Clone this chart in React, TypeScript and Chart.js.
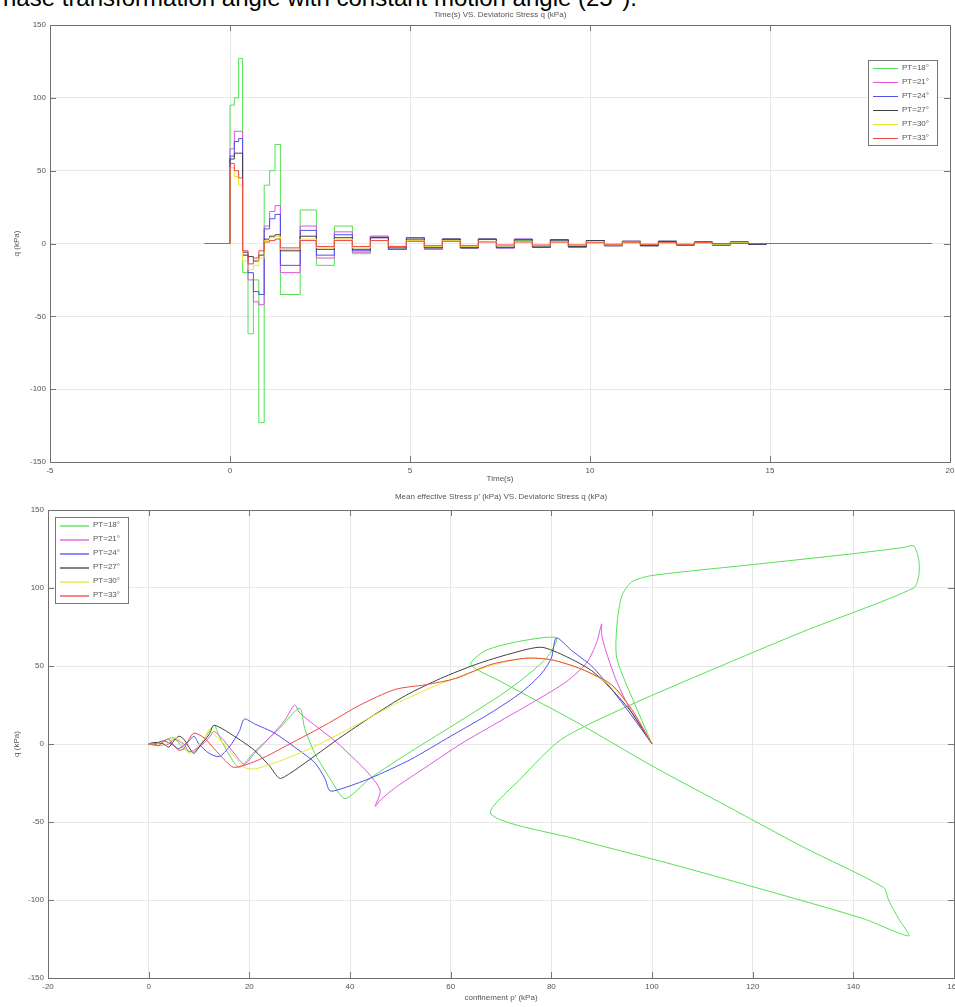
import React, { useEffect, useRef } from "react";
import { Chart, registerables } from "chart.js";
Chart.register(...registerables);

const seriesNames = ["PT=18°", "PT=21°", "PT=24°", "PT=27°", "PT=30°", "PT=33°"];
const seriesColors = ["#55e055", "#e055e0", "#5050ee", "#404040", "#e8e830", "#f04545"];

const xTicksTime = [-5, 0, 5, 10, 15, 20];
const yTicksQ = [-150, -100, -50, 0, 50, 100, 150];
const xTicksP = [-20, 0, 20, 40, 60, 80, 100, 120, 140, 160];

// switching times of the stepped time histories (s)
const timeBreaks = [-0.7, 0, 0.12, 0.24, 0.35, 0.5, 0.65, 0.8, 0.95, 1.1, 1.25, 1.4, 1.95, 2.4, 2.9, 3.4, 3.9, 4.4, 4.9, 5.4, 5.9, 6.4, 6.9, 7.4, 7.9, 8.4, 8.9, 9.4, 9.9, 10.4, 10.9, 11.4, 11.9, 12.4, 12.9, 13.4, 13.9, 14.4, 14.9, 19.5];
const qTime18 = [0, 95, 100, 127, -20, -62, -25, -123, 40, 50, 68, -35, 23, -15, 12, -7, 5, -4, 4, -4, 3, -3, 3, -3, 2, -2, 2, -2, 2, -1.5, 1.5, -1.5, 1.5, -1, 1, -1, 1, -0.5, 0, 0];
const qTime21 = [0, 65, 77, 77, -8, -25, -40, -42, 12, 22, 26, -20, 12, -10, 8, -6, 5, -4, 4, -4, 3, -3, 3, -3, 3, -2.5, 2.5, -2.5, 2, -1.5, 1.5, -1.5, 1.5, -1, 1, -1, 1, -0.5, 0, 0];
const qTime24 = [0, 60, 70, 72, -8, -20, -33, -35, 10, 17, 20, -15, 9, -8, 6, -5, 4, -4, 4, -3, 3, -3, 3, -3, 3, -2.5, 2.5, -2.5, 2, -1.5, 1.5, -1.5, 1.5, -1, 1, -1, 1, -0.5, 0, 0];
const qTime27 = [0, 58, 62, 62, -6, -9, -12, -8, 3, 5, 6, -5, 5, -4, 4, -4, 4, -3, 3, -3, 3, -3, 3, -2.5, 2.5, -2.5, 2.5, -2, 2, -1.5, 1.5, -1.5, 1.5, -1, 1, -1, 1, -0.5, 0, 0];
const qTime30 = [0, 52, 46, 40, -12, -18, -15, -10, 2, 4, 5, -4, 3, -3, 3, -3, 2, -2, 2, -2, 2, -2, 1.5, -1.5, 1.5, -1.5, 1, -1, 1, -1, 1, -0.5, 0.5, -0.5, 0.5, -0.5, 0.5, 0, 0, 0];
const qTime33 = [0, 55, 50, 45, -5, -14, -10, -5, 1, 2, 3, -3, 2, -2, 2, -2, 2, -2, 1.5, -1.5, 1.5, -1.5, 1, -1, 1, -1, 1, -1, 0.5, -0.5, 0.5, -0.5, 0.5, -0.5, 0.5, 0, 0, 0, 0, 0];
const qTimeSeries = [qTime18, qTime21, qTime24, qTime27, qTime30, qTime33];

// stress paths [p', q] (kPa)
const path18 = [[100, 0], [96, 30], [93, 55], [93, 75], [94, 95], [96, 104], [100, 108], [120, 115], [140, 122], [150, 126], [152, 127], [153, 118], [153, 108], [152, 100], [130, 72], [110, 45], [95, 24], [82, 3], [74, -22], [68, -45], [85, -61], [105, -78], [125, -96], [142, -112], [151, -123], [149, -112], [147, -100], [146, -92], [130, -66], [115, -40], [100, -14], [85, 14], [70, 40], [64, 51], [67, 60], [74, 66], [81, 68], [79, 55], [72, 36], [62, 15], [52, -5], [44, -22], [39, -35], [36, -22], [33, -6], [31, 10], [30, 23], [26, 10], [21, -5], [18, -15], [16, -7], [14, 5], [13, 12], [11, 3], [9, -5], [7, -3], [5, 4], [3, 2], [2, -1], [0, 0]];
const path21 = [[100, 0], [96, 20], [93, 40], [91, 58], [90, 70], [90, 77], [89, 65], [87, 52], [83, 40], [77, 28], [70, 15], [62, 0], [55, -15], [49, -28], [46, -36], [45, -40], [46, -30], [44, -20], [41, -10], [37, 2], [33, 12], [30, 20], [29, 25], [27, 15], [24, 4], [21, -6], [19, -13], [17, -6], [15, 2], [13, 8], [12, 4], [10, -2], [8, -5], [7, 0], [5, 3], [4, 0], [2, -1], [0, 0]];
const path24 = [[100, 0], [96, 18], [92, 35], [88, 50], [84, 60], [81, 68], [80, 55], [78, 45], [74, 33], [68, 20], [60, 5], [52, -10], [44, -22], [38, -29], [36, -30], [35, -22], [33, -12], [29, -2], [25, 7], [21, 13], [19, 16], [18, 8], [16, -2], [14, -8], [12, -6], [10, 0], [9, 5], [8, 2], [6, -3], [5, -1], [3, 2], [1, 0], [0, 0]];
const path27 = [[100, 0], [96, 20], [92, 35], [88, 47], [83, 56], [78, 62], [72, 58], [65, 51], [58, 42], [51, 31], [44, 17], [38, 4], [32, -10], [28, -19], [26, -22], [24, -14], [21, -4], [17, 5], [13, 12], [12, 6], [10, -2], [9, -6], [8, -2], [7, 3], [6, 5], [5, 2], [4, -2], [3, 0], [1, 1], [0, 0]];
const path30 = [[100, 0], [96, 22], [92, 37], [86, 48], [80, 54], [75, 55], [70, 52], [64, 46], [56, 36], [48, 24], [40, 10], [32, -3], [26, -11], [21, -16], [19, -15], [17, -8], [15, 0], [13, 6], [12, 9], [11, 3], [9, -4], [8, -6], [7, -2], [6, 3], [5, 4], [4, 1], [3, -1], [1, 0], [0, 0]];
const path33 = [[100, 0], [96, 22], [92, 38], [86, 48], [80, 54], [75, 55], [68, 51], [61, 42], [55, 38], [49, 35], [42, 25], [35, 12], [28, 0], [22, -10], [17, -15], [15, -10], [13, -3], [11, 4], [9, 7], [8, 3], [7, -3], [6, -4], [5, -1], [4, 3], [3, 2], [2, -1], [1, 0], [0, 0]];
const stressPaths = [path18, path21, path24, path27, path30, path33];

const FONT = "'Liberation Sans', Arial, sans-serif";
const TXT = "#555";

const matlabPlugin = {
  id: "matlabBox",
  afterDraw(chart: any, _args: any, opts: any) {
    const { ctx, chartArea: a } = chart;
    ctx.save();
    ctx.lineWidth = 1;
    ctx.setLineDash([]);
    // inward ticks
    ctx.strokeStyle = "#777";
    const xs = chart.scales.x;
    const ys = chart.scales.y;
    ctx.beginPath();
    xs.ticks.forEach((t: any) => {
      const px = Math.round(xs.getPixelForValue(t.value)) + 0.5;
      ctx.moveTo(px, a.bottom); ctx.lineTo(px, a.bottom - 6);
      ctx.moveTo(px, a.top); ctx.lineTo(px, a.top + 6);
    });
    ys.ticks.forEach((t: any) => {
      const py = Math.round(ys.getPixelForValue(t.value)) + 0.5;
      ctx.moveTo(a.left, py); ctx.lineTo(a.left + 6, py);
      ctx.moveTo(a.right, py); ctx.lineTo(a.right - 6, py);
    });
    ctx.stroke();
    ctx.strokeStyle = "#6f6f6f";
    ctx.strokeRect(Math.round(a.left) + 0.5, Math.round(a.top) + 0.5, Math.round(a.width), Math.round(a.height));
    // title
    ctx.fillStyle = TXT;
    ctx.font = `8px ${FONT}`;
    ctx.textAlign = "center";
    ctx.textBaseline = "middle";
    ctx.fillText(opts.title, (a.left + a.right) / 2, a.top - opts.titleGap);
    // legend
    const lg = opts.legend;
    const lx = Math.round(lg.fromRight ? a.right - lg.dx : a.left + lg.dx);
    const ly = Math.round(a.top + lg.dy);
    ctx.fillStyle = "#fff";
    ctx.fillRect(lx, ly, lg.w, lg.h);
    ctx.strokeStyle = "#777";
    ctx.strokeRect(lx + 0.5, ly + 0.5, lg.w, lg.h);
    ctx.textAlign = "left";
    for (let i = 0; i < seriesNames.length; i++) {
      const y = ly + 8 + i * lg.step;
      ctx.globalAlpha = lg.alpha;
      ctx.fillStyle = seriesColors[i];
      ctx.fillRect(lx + 5, y, lg.lineLen - 5, lg.lineH);
      ctx.globalAlpha = 1;
      ctx.fillStyle = TXT;
      ctx.fillText(seriesNames[i], lx + lg.lineLen + 4, y);
    }
    ctx.restore();
  },
};

function axisCommon(ticksVals: number[], min: number, max: number, title: string, isX: boolean, size: number) {
  return {
    type: "linear",
    min,
    max,
    afterBuildTicks: (s: any) => { s.ticks = ticksVals.map((v) => ({ value: v })); },
    afterFit: (s: any) => {
      if (isX) { s.height = size; } else { s.width = size; }
      s.paddingLeft = 0; s.paddingRight = 0; s.paddingTop = 0; s.paddingBottom = 0;
    },
    grid: { color: "#e8e8e8", drawTicks: false },
    border: { display: false },
    ticks: { color: TXT, font: { family: FONT, size: 8 }, padding: 4, maxRotation: 0, autoSkip: false },
    title: { display: true, text: title, color: TXT, font: { family: FONT, size: 8 }, padding: isX ? { top: 2, bottom: 4 } : { top: 12, bottom: 2 } },
  };
}

function TimeChart() {
  const ref = useRef<HTMLCanvasElement>(null);
  useEffect(() => {
    const datasets = qTimeSeries.map((vals, i) => ({
      label: seriesNames[i],
      data: vals.map((q, k) => ({ x: timeBreaks[k], y: q })),
      borderColor: seriesColors[i],
      borderWidth: 1,
      pointRadius: 0,
      stepped: "before" as const,
      fill: false,
      order: 5 - i,
    }));
    const chart = new Chart(ref.current!, {
      type: "line",
      data: { datasets },
      options: {
        animation: false,
        responsive: false,
        devicePixelRatio: 1,
        layout: { padding: { top: 25, right: 5, left: 0, bottom: 0 } },
        plugins: {
          legend: { display: false },
          tooltip: { enabled: false },
          matlabBox: { title: "Time(s) VS. Deviatoric Stress q (kPa)", titleGap: 10, legend: { fromRight: true, dx: 82, dy: 35, w: 69, h: 85, step: 14, lineLen: 30, lineH: 1, alpha: 1 } },
        } as any,
        scales: {
          x: axisCommon(xTicksTime, -5, 20, "Time(s)", true, 26) as any,
          y: axisCommon(yTicksQ, -150, 150, "q (kPa)", false, 50) as any,
        },
      },
      plugins: [matlabPlugin],
    });
    return () => chart.destroy();
  }, []);
  return <canvas ref={ref} width={955} height={488} style={{ position: "absolute", left: 0, top: 0, width: 955, height: 488 }} />;
}

function PathChart() {
  const ref = useRef<HTMLCanvasElement>(null);
  useEffect(() => {
    const datasets = stressPaths.map((pts, i) => ({
      label: seriesNames[i],
      data: pts.map(([p, q]) => ({ x: p, y: q })),
      borderColor: seriesColors[i],
      borderWidth: 1,
      pointRadius: 0,
      showLine: true,
      tension: 0.25,
      fill: false,
      order: 5 - i,
    }));
    const chart = new Chart(ref.current!, {
      type: "scatter",
      data: { datasets },
      options: {
        animation: false,
        responsive: false,
        devicePixelRatio: 1,
        layout: { padding: { top: 22, right: 1, left: 0, bottom: 0 } },
        plugins: {
          legend: { display: false },
          tooltip: { enabled: false },
          matlabBox: { title: "Mean effective Stress p' (kPa) VS. Deviatoric Stress q (kPa)", titleGap: 13, legend: { fromRight: false, dx: 7, dy: 7, w: 73, h: 86, step: 14, lineLen: 34, lineH: 2, alpha: 0.65 } },
        } as any,
        scales: {
          x: axisCommon(xTicksP, -20, 160, "confinement p' (kPa)", true, 29) as any,
          y: axisCommon(yTicksQ, -150, 150, "q (kPa)", false, 48) as any,
        },
      },
      plugins: [matlabPlugin],
    });
    return () => chart.destroy();
  }, []);
  return <canvas ref={ref} width={955} height={519} style={{ position: "absolute", left: 0, top: 488, width: 955, height: 519 }} />;
}

export default function App() {
  useEffect(() => {
    document.body.style.margin = "0";
    document.body.style.overflow = "hidden";
  }, []);
  return (
    <div style={{ position: "absolute", left: 0, top: 0, width: 955, height: 1007, overflow: "hidden", background: "#fff" }}>
      <div style={{ position: "absolute", left: 3, top: -16, fontFamily: FONT, fontSize: 24, lineHeight: "28px", color: "#000", whiteSpace: "nowrap" }}>
        hase transformation angle with constant motion angle (25°).
      </div>
      <TimeChart />
      <PathChart />
    </div>
  );
}
